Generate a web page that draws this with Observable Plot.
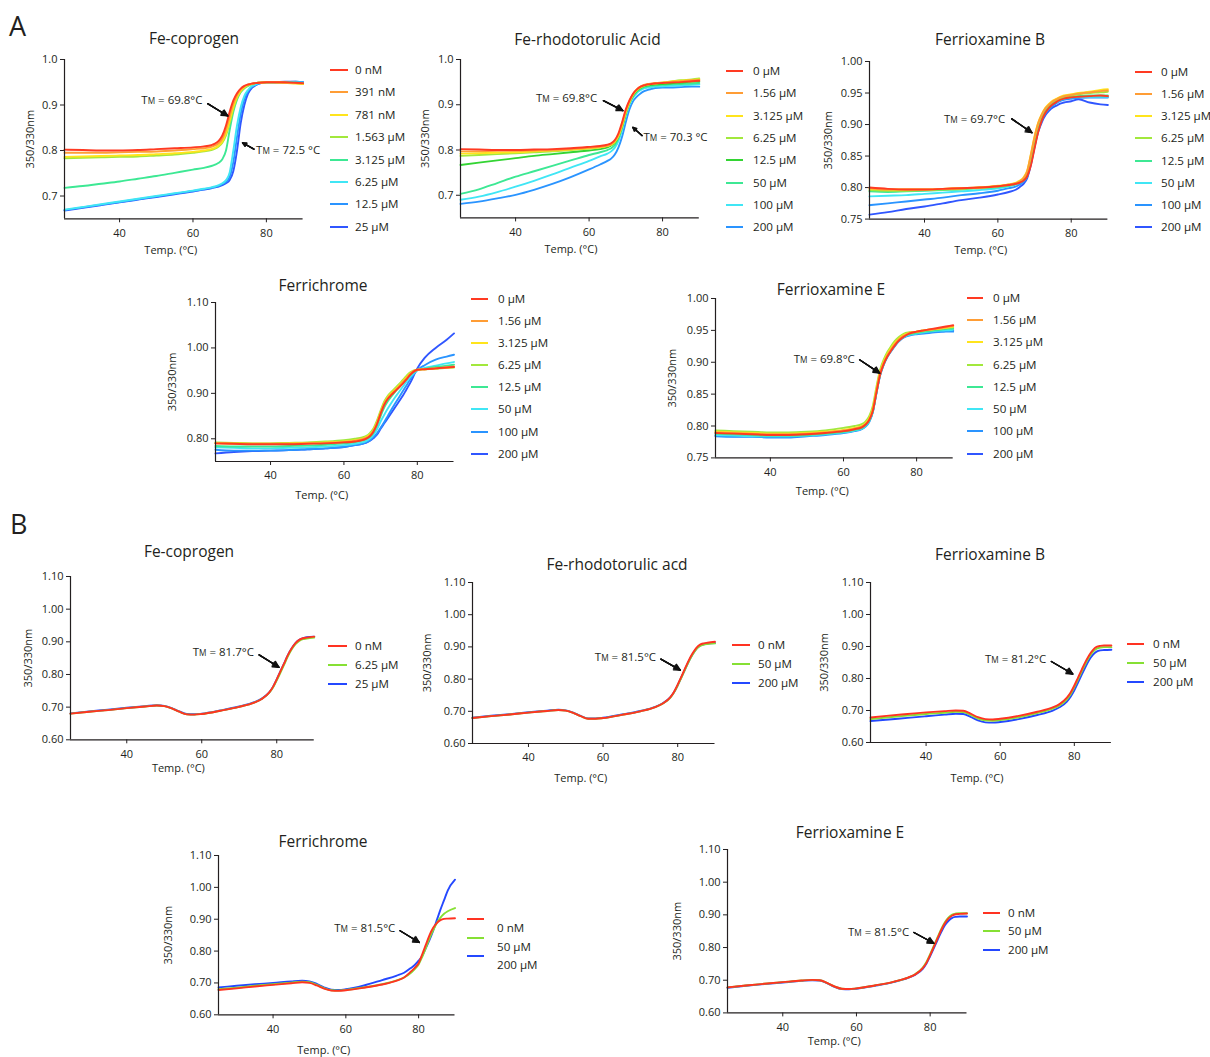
<!DOCTYPE html>
<html><head><meta charset="utf-8">
<script src="https://cdn.jsdelivr.net/npm/d3@7"></script>
<script src="https://cdn.jsdelivr.net/npm/@observablehq/plot@0.6"></script>
<style>
body{margin:0;background:#fff;}
#fig{position:relative;width:1210px;height:1057px;font-family:"Open Sans",sans-serif;color:#231f20;overflow:hidden;background:#fff}
.abs{position:absolute;white-space:nowrap;line-height:1}
.ttl{font-size:15.5px;transform:translate(-50%,-50%)}
.leg{font-size:11.6px;transform:translateY(-50%)}
.let{font-size:27px;transform:translateY(-50%)}
.sw{position:absolute;height:2px}
svg.panel{position:absolute;overflow:visible}
</style></head><body><div id="fig"></div>
<script>
// ---------- DATA ----------
const tempA = [25,30,35,40,45,50,55,60,63,65,66,67,68,69,70,71,72,73,74,75,76,77,78,80,82,85,88,90];
const tempB = [25,30,35,40,45,48,50,52,54,56,58,60,65,70,74,76,78,79,80,81,82,83,84,85,86,87,88,90];
const xTicks = [40,60,80];
const yTicksA1 = [0.7,0.8,0.9,1.0];
const yTicksA3 = [0.75,0.80,0.85,0.90,0.95,1.00];
const yTicksA4 = [0.80,0.90,1.00,1.10];
const yTicksB = [0.60,0.70,0.80,0.90,1.00,1.10];

// A1 Fe-coprogen
const legendA1 = ["0 nM","391 nM","781 nM","1.563 µM","3.125 µM","6.25 µM","12.5 µM","25 µM"];
const a1_0    = [.802,.801,.800,.800,.801,.803,.805,.807,.809,.812,.815,.821,.833,.855,.885,.910,.926,.936,.942,.945,.947,.948,.949,.950,.950,.950,.949,.948];
const a1_391  = [.795,.795,.795,.796,.797,.798,.800,.803,.805,.808,.811,.816,.826,.846,.875,.903,.922,.934,.941,.945,.947,.948,.949,.950,.950,.949,.948,.947];
const a1_781  = [.786,.787,.788,.789,.790,.792,.794,.797,.800,.803,.806,.811,.820,.838,.866,.896,.918,.931,.939,.944,.946,.948,.949,.950,.950,.949,.947,.946];
const a1_1563 = [.783,.784,.785,.786,.787,.789,.791,.795,.798,.801,.804,.809,.817,.833,.860,.891,.915,.930,.938,.943,.946,.948,.949,.950,.950,.949,.948,.946];
const a1_3125 = [.718,.722,.727,.732,.738,.744,.751,.758,.762,.766,.769,.773,.781,.800,.845,.885,.912,.928,.937,.942,.946,.948,.949,.950,.950,.950,.949,.948];
const a1_625  = [.670,.676,.682,.688,.694,.700,.706,.712,.716,.719,.721,.724,.728,.735,.752,.800,.855,.895,.920,.933,.941,.945,.948,.950,.950,.950,.950,.949];
const a1_125  = [.669,.675,.681,.687,.693,.699,.705,.711,.715,.718,.720,.722,.726,.731,.742,.775,.830,.880,.912,.930,.939,.944,.947,.950,.950,.950,.951,.950];
const a1_25   = [.668,.674,.680,.686,.692,.698,.704,.710,.714,.717,.719,.721,.724,.728,.735,.755,.800,.860,.900,.925,.937,.943,.947,.950,.950,.951,.951,.950];

// A2 Fe-rhodotorulic Acid
const legendA = ["0 µM","1.56 µM","3.125 µM","6.25 µM","12.5 µM","50 µM","100 µM","200 µM"];
const a2_0    = [.802,.801,.800,.800,.801,.802,.804,.807,.809,.812,.815,.822,.837,.862,.890,.910,.925,.934,.940,.943,.945,.946,.947,.948,.949,.950,.952,.953];
const a2_156  = [.797,.797,.798,.798,.799,.800,.802,.805,.807,.810,.813,.820,.834,.858,.887,.908,.924,.934,.940,.944,.946,.947,.948,.949,.950,.952,.954,.955];
const a2_3125 = [.792,.793,.794,.795,.797,.799,.801,.804,.806,.809,.812,.818,.831,.855,.884,.906,.923,.933,.939,.943,.945,.946,.947,.949,.951,.953,.955,.956];
const a2_625  = [.787,.789,.791,.793,.795,.797,.800,.803,.806,.809,.812,.818,.831,.854,.883,.905,.922,.932,.938,.942,.944,.946,.947,.949,.951,.954,.956,.958];
const a2_125  = [.767,.772,.777,.782,.787,.791,.795,.799,.802,.806,.810,.816,.830,.853,.882,.905,.921,.931,.937,.941,.943,.944,.945,.946,.947,.949,.951,.952];
const a2_50   = [.703,.713,.727,.741,.753,.765,.777,.789,.795,.800,.804,.811,.826,.850,.879,.903,.919,.929,.935,.939,.941,.942,.943,.944,.945,.946,.947,.948];
const a2_100  = [.690,.697,.707,.719,.732,.746,.761,.776,.786,.792,.797,.805,.820,.845,.875,.900,.916,.926,.932,.936,.938,.939,.940,.941,.942,.943,.944,.945];
const a2_200  = [.681,.686,.693,.701,.712,.725,.740,.757,.768,.776,.781,.790,.806,.830,.862,.890,.908,.918,.925,.930,.933,.935,.937,.938,.938,.939,.940,.940];

// A3 Ferrioxamine B
const a3_0    = [.800,.798,.797,.797,.798,.799,.800,.802,.804,.806,.808,.811,.818,.835,.862,.888,.907,.919,.927,.932,.936,.939,.941,.943,.944,.945,.946,.945];
const a3_156  = [.799,.797,.797,.797,.798,.799,.800,.802,.805,.807,.810,.815,.826,.852,.880,.902,.916,.926,.932,.937,.940,.943,.945,.947,.949,.951,.953,.954];
const a3_3125 = [.798,.797,.797,.797,.798,.799,.800,.803,.805,.808,.811,.816,.827,.853,.881,.903,.917,.927,.933,.938,.941,.944,.946,.948,.950,.952,.955,.956];
const a3_625  = [.796,.795,.795,.796,.797,.798,.800,.802,.804,.807,.810,.814,.824,.849,.877,.900,.915,.925,.931,.936,.939,.942,.944,.946,.948,.950,.951,.952];
const a3_125  = [.794,.793,.794,.795,.796,.797,.799,.801,.803,.806,.809,.813,.822,.846,.874,.898,.913,.923,.930,.935,.938,.940,.942,.944,.945,.946,.946,.946];
const a3_50   = [.786,.787,.788,.790,.792,.794,.796,.799,.802,.805,.808,.812,.820,.842,.870,.894,.910,.921,.928,.933,.936,.939,.941,.943,.944,.944,.944,.944];
const a3_100  = [.772,.775,.778,.781,.784,.788,.791,.795,.799,.802,.805,.809,.817,.838,.866,.890,.907,.918,.925,.930,.934,.937,.939,.941,.942,.943,.943,.943];
const a3_200  = [.757,.761,.766,.770,.775,.780,.784,.789,.793,.797,.801,.806,.815,.836,.864,.888,.904,.915,.922,.927,.930,.933,.935,.937,.940,.935,.932,.931];

// A4 Ferrichrome
const a4_0    = [.790,.789,.788,.788,.788,.789,.790,.792,.794,.797,.800,.805,.815,.832,.855,.875,.888,.897,.905,.913,.921,.930,.940,.952,.953,.955,.957,.958];
const a4_156  = [.790,.789,.789,.789,.789,.790,.791,.793,.796,.799,.802,.807,.817,.834,.857,.877,.890,.899,.907,.915,.924,.933,.942,.952,.953,.955,.957,.959];
const a4_3125 = [.791,.790,.789,.789,.790,.791,.792,.794,.797,.800,.804,.809,.819,.836,.859,.879,.892,.901,.909,.917,.926,.935,.944,.952,.953,.955,.957,.958];
const a4_625  = [.792,.791,.790,.790,.791,.792,.794,.797,.800,.803,.806,.812,.822,.840,.862,.882,.895,.904,.912,.920,.929,.938,.946,.952,.953,.954,.956,.957];
const a4_125  = [.784,.783,.783,.783,.784,.785,.787,.790,.793,.796,.799,.804,.813,.829,.850,.869,.883,.894,.904,.913,.922,.931,.940,.951,.954,.958,.961,.963];
const a4_50   = [.781,.780,.779,.779,.780,.781,.783,.786,.789,.792,.795,.800,.808,.821,.838,.853,.867,.880,.892,.903,.914,.925,.935,.951,.956,.961,.966,.969];
const a4_100  = [.776,.774,.774,.774,.775,.777,.779,.782,.786,.789,.792,.796,.803,.812,.824,.837,.851,.865,.878,.891,.904,.917,.930,.951,.962,.974,.981,.985];
const a4_200  = [.768,.771,.773,.774,.775,.777,.779,.782,.786,.789,.791,.795,.801,.809,.822,.834,.846,.858,.870,.882,.894,.908,.922,.955,.978,1.000,1.018,1.032];

// A5 Ferrioxamine E
const a5_0    = [.789,.788,.787,.786,.786,.787,.789,.792,.795,.798,.802,.809,.823,.852,.880,.897,.909,.918,.926,.933,.938,.942,.945,.948,.950,.953,.956,.958];
const a5_156  = [.790,.789,.788,.787,.787,.788,.790,.793,.796,.799,.803,.810,.825,.855,.883,.899,.911,.920,.928,.935,.940,.943,.946,.948,.950,.952,.955,.957];
const a5_3125 = [.791,.790,.789,.788,.788,.789,.791,.794,.797,.800,.804,.812,.827,.857,.885,.901,.913,.922,.930,.936,.941,.944,.946,.948,.950,.952,.954,.956];
const a5_625  = [.793,.792,.791,.790,.790,.791,.793,.797,.800,.803,.807,.815,.831,.861,.888,.904,.916,.925,.933,.939,.943,.946,.947,.948,.950,.952,.954,.955];
const a5_125  = [.788,.787,.786,.785,.785,.786,.788,.791,.794,.797,.801,.808,.823,.853,.881,.898,.910,.919,.927,.934,.939,.942,.944,.946,.948,.950,.952,.953];
const a5_50   = [.786,.785,.784,.784,.784,.785,.787,.790,.793,.796,.800,.807,.822,.852,.880,.897,.909,.918,.926,.933,.938,.941,.943,.945,.947,.949,.950,.951];
const a5_100  = [.784,.783,.783,.782,.782,.784,.786,.789,.792,.795,.799,.806,.821,.851,.879,.896,.908,.917,.925,.932,.937,.940,.942,.944,.945,.947,.948,.948];
const a5_200  = [.785,.784,.784,.783,.783,.785,.787,.790,.793,.796,.800,.807,.822,.852,.880,.897,.909,.918,.926,.933,.938,.941,.943,.945,.946,.948,.949,.950];

// B panels
const legendB1 = ["0 nM","6.25 µM","25 µM"];
const legendB  = ["0 nM","50 µM","200 µM"];
const b1_0   = [.680,.686,.691,.697,.702,.705,.703,.696,.686,.678,.677,.679,.689,.701,.714,.725,.745,.762,.785,.810,.835,.860,.880,.896,.906,.911,.913,.916];
const b1_625 = [.680,.686,.691,.697,.702,.705,.703,.696,.686,.678,.677,.679,.689,.701,.714,.725,.744,.760,.782,.806,.831,.856,.877,.893,.903,.908,.910,.913];
const b1_25  = [.681,.687,.692,.698,.703,.706,.704,.697,.687,.679,.678,.680,.690,.702,.715,.726,.745,.762,.785,.810,.835,.860,.880,.896,.906,.911,.914,.916];
const b2_0   = [.679,.685,.690,.696,.701,.704,.702,.695,.685,.677,.677,.679,.689,.700,.713,.724,.743,.760,.783,.808,.834,.859,.880,.897,.907,.911,.913,.916];
const b2_50  = [.679,.685,.690,.696,.701,.704,.702,.695,.685,.677,.677,.679,.689,.700,.713,.724,.742,.758,.780,.805,.830,.855,.876,.893,.903,.907,.909,.911];
const b2_200 = [.680,.686,.691,.697,.702,.705,.703,.696,.686,.678,.678,.680,.690,.701,.714,.725,.743,.759,.781,.806,.831,.856,.877,.894,.904,.908,.910,.912];
const b3_0   = [.678,.684,.689,.694,.698,.700,.699,.690,.679,.673,.672,.674,.683,.696,.709,.720,.740,.756,.778,.803,.828,.852,.873,.889,.899,.902,.903,.903];
const b3_50  = [.673,.679,.684,.689,.693,.696,.695,.686,.675,.669,.668,.670,.679,.692,.705,.716,.735,.751,.773,.797,.822,.846,.867,.883,.893,.897,.898,.898];
const b3_200 = [.667,.672,.677,.682,.687,.690,.689,.680,.669,.663,.662,.664,.673,.686,.699,.710,.728,.743,.763,.787,.812,.836,.858,.874,.884,.888,.889,.890];
const b4_0   = [.678,.683,.689,.694,.699,.702,.700,.692,.682,.676,.675,.677,.685,.695,.707,.717,.737,.748,.762,.790,.820,.850,.873,.888,.897,.901,.902,.903];
const b4_50  = [.680,.685,.691,.696,.701,.704,.702,.694,.684,.677,.676,.678,.686,.696,.708,.717,.733,.744,.758,.782,.810,.840,.865,.888,.905,.917,.925,.935];
const b4_200 = [.686,.691,.696,.700,.705,.707,.705,.697,.686,.679,.678,.680,.692,.709,.723,.732,.748,.757,.770,.785,.810,.835,.864,.897,.930,.960,.990,1.024];
const b5_0   = [.678,.684,.689,.694,.699,.701,.700,.692,.681,.674,.673,.675,.684,.695,.708,.718,.737,.753,.777,.802,.828,.853,.874,.889,.898,.902,.903,.904];
const b5_50  = [.678,.684,.689,.694,.699,.701,.700,.692,.681,.674,.673,.675,.684,.695,.708,.719,.739,.756,.780,.805,.831,.856,.877,.892,.901,.904,.905,.905];
const b5_200 = [.677,.683,.688,.693,.698,.700,.699,.691,.680,.673,.672,.674,.683,.694,.707,.717,.735,.751,.774,.798,.823,.847,.868,.882,.891,.894,.895,.895];

// Tm annotations (temperature / ratio values)
const notesA1 = [{text:"TM = 69.8°C", side:"end", x:62.6, y:.910, x1:64.0, y1:.903, x2:69.5, y2:.876},
                 {text:"TM = 72.5 °C", side:"start", x:77.2, y:.800, x1:76.6, y1:.803, x2:73.5, y2:.817}];
const notesA2 = [{text:"TM = 69.8°C", side:"end", x:62.2, y:.914, x1:63.9, y1:.909, x2:69.2, y2:.887},
                 {text:"TM = 70.3 °C", side:"start", x:74.8, y:.828, x1:74.4, y1:.832, x2:71.9, y2:.850}];
const notesA3 = [{text:"TM = 69.7°C", side:"end", x:62.0, y:.909, x1:63.8, y1:.909, x2:69.3, y2:.887}];
const notesA5 = [{text:"TM = 69.8°C", side:"end", x:63.1, y:.904, x1:64.4, y1:.904, x2:69.9, y2:.883}];
const notesB1 = [{text:"TM = 81.7°C", side:"end", x:73.9, y:.868, x1:75.3, y1:.860, x2:80.6, y2:.822}];
const notesB2 = [{text:"TM = 81.5°C", side:"end", x:74.2, y:.867, x1:75.5, y1:.862, x2:80.7, y2:.828}];
const notesB3 = [{text:"TM = 81.2°C", side:"end", x:72.4, y:.861, x1:73.8, y1:.853, x2:79.6, y2:.814}];
const notesB4 = [{text:"TM = 81.5°C", side:"end", x:73.6, y:.870, x1:74.9, y1:.864, x2:80.2, y2:.827}];
const notesB5 = [{text:"TM = 81.5°C", side:"end", x:74.3, y:.848, x1:75.6, y1:.846, x2:81.0, y2:.813}];

// ---------- STYLE / LAYOUT ----------
const C = {red:"#ff3a22", orange:"#ff9d35", yellow:"#ffe41c", ygreen:"#a2e83c", spring:"#3de894",
           cyan:"#40e6f5", dodger:"#2a94ff", blue:"#3056ff", green:"#33d433"};
const colorsA1 = [C.red,C.orange,C.yellow,C.ygreen,C.spring,C.cyan,C.dodger,C.blue];
const colorsA2 = [C.red,C.orange,C.yellow,C.ygreen,C.green,C.spring,C.cyan,C.dodger];
const colorsA  = [C.red,C.orange,C.yellow,C.ygreen,C.spring,C.cyan,C.dodger,C.blue];
const colorsB  = ["#ff3322","#86e034","#2448ff"];
const INK = "#231f20";
const FONT = "'Open Sans', sans-serif";

const panels = [
 {title:"Fe-coprogen", tc:[194,39], temps:tempA, labels:legendA1, colors:colorsA1, values:[a1_0,a1_391,a1_781,a1_1563,a1_3125,a1_625,a1_125,a1_25],
  yDomain:[0.65,1.0], yTicks:yTicksA1, yFmt:".1f", frame:[64,302.6,59,218.3], notes:notesA1, ylab:34, xlab:32, xshift:-13,
  leg:{sx:330, sw:18, tx:355, y0:70, dy:22.4}},
 {title:"Fe-rhodotorulic Acid", tc:[587.5,40], temps:tempA, labels:legendA, colors:colorsA2, values:[a2_0,a2_156,a2_3125,a2_625,a2_125,a2_50,a2_100,a2_200],
  yDomain:[0.65,1.0], yTicks:yTicksA1, yFmt:".1f", frame:[460.2,699,59.3,217.7], notes:notesA2, ylab:35, xlab:32, xshift:-9,
  leg:{sx:726, sw:17, tx:753, y0:71, dy:22.3}},
 {title:"Ferrioxamine B", tc:[990,40], temps:tempA, labels:legendA, colors:colorsA, values:[a3_0,a3_156,a3_3125,a3_625,a3_125,a3_50,a3_100,a3_200],
  yDomain:[0.75,1.0], yTicks:yTicksA3, yFmt:".2f", frame:[869.3,1107.7,60.7,218.3], notes:notesA3, ylab:41, xlab:32, xshift:-8,
  leg:{sx:1135, sw:17, tx:1161, y0:71.7, dy:22.2}},
 {title:"Ferrichrome", tc:[323,286], temps:tempA, labels:legendA, colors:colorsA, values:[a4_0,a4_156,a4_3125,a4_625,a4_125,a4_50,a4_100,a4_200],
  yDomain:[0.75,1.10], yTicks:yTicksA4, yFmt:".2f", frame:[215,453.5,301.7,460.7], notes:[], ylab:43, xlab:34, xshift:-13,
  leg:{sx:471, sw:17, tx:498, y0:298.7, dy:22.14}},
 {title:"Ferrioxamine E", tc:[831,290], temps:tempA, labels:legendA, colors:colorsA, values:[a5_0,a5_156,a5_3125,a5_625,a5_125,a5_50,a5_100,a5_200],
  yDomain:[0.75,1.0], yTicks:yTicksA3, yFmt:".2f", frame:[715,952.7,298.3,457.7], notes:notesA5, ylab:43, xlab:34, xshift:-12,
  leg:{sx:967, sw:16, tx:993, y0:298, dy:22.24}},
 {title:"Fe-coprogen", tc:[189,552], temps:tempB, labels:legendB1, colors:colorsB, values:[b1_0,b1_625,b1_25],
  yDomain:[0.6,1.1], yTicks:yTicksB, yFmt:".2f", frame:[69.75,313.5,576,739.3], notes:notesB1, ylab:42, xlab:29, xshift:-14,
  leg:{sx:328, sw:19, tx:355, y0:646.3, dy:18.9}},
 {title:"Fe-rhodotorulic acd", tc:[617,565], temps:tempB, labels:legendB, colors:colorsB, values:[b2_0,b2_50,b2_200],
  yDomain:[0.6,1.1], yTicks:yTicksB, yFmt:".2f", frame:[471.5,714,581.7,742.7], notes:notesB2, ylab:45, xlab:35.6, xshift:-13,
  leg:{sx:732, sw:18, tx:758, y0:645, dy:18.8}},
 {title:"Ferrioxamine B", tc:[990,555], temps:tempB, labels:legendB, colors:colorsB, values:[b3_0,b3_50,b3_200],
  yDomain:[0.6,1.1], yTicks:yTicksB, yFmt:".2f", frame:[869.5,1110.4,581.7,741.7], notes:notesB3, ylab:46, xlab:36, xshift:-14,
  leg:{sx:1127, sw:17, tx:1153, y0:644.3, dy:18.85}},
 {title:"Ferrichrome", tc:[323,842], temps:tempB, labels:legendB, colors:colorsB, values:[b4_0,b4_50,b4_200],
  yDomain:[0.6,1.1], yTicks:yTicksB, yFmt:".2f", frame:[217.5,454,855,1014.3], notes:notesB4, ylab:49.5, xlab:35.7, xshift:-13,
  leg:{sx:467, sw:17, tx:497, y0:919.3, dy:18.5, ty0:928.3}},
 {title:"Ferrioxamine E", tc:[850,833], temps:tempB, labels:legendB, colors:colorsB, values:[b5_0,b5_50,b5_200],
  yDomain:[0.6,1.1], yTicks:yTicksB, yFmt:".2f", frame:[727,966.5,849.3,1012.7], notes:notesB5, ylab:50, xlab:29, xshift:-13,
  leg:{sx:983, sw:17, tx:1008, y0:912.7, dy:18.5}}
];

const fig = document.getElementById("fig");
function addText(txt, cls, x, y) {
  const d = document.createElement("div");
  d.className = "abs " + cls; d.textContent = txt;
  d.style.left = x + "px"; d.style.top = y + "px";
  fig.appendChild(d); return d;
}
addText("A", "let", 9, 25);
addText("B", "let", 10, 523);

const ML = 60, MT = 8, MR = 8, MB = 45;
panels.forEach(p => {
  p.values.forEach((v, i) => { if (v.length !== p.temps.length) throw new Error(p.title + " series " + i + " length " + v.length); });
  const [x0, x1, y0, y1] = p.frame;
  const rows = [];
  for (let i = p.values.length - 1; i >= 0; --i) {
    p.values[i].forEach((v, j) => rows.push({T: p.temps[j], v, key: p.labels[i]}));
  }
  const notesEnd = p.notes.filter(n => n.side === "end");
  const notesStart = p.notes.filter(n => n.side === "start");
  const marks = [
    Plot.line(rows, {x: "T", y: "v", z: "key", stroke: "key", strokeWidth: 1.9, curve: "monotone-x"}),
    Plot.ruleX([25], {stroke: INK, strokeWidth: 1.2}),
    Plot.ruleY([p.yDomain[0]], {stroke: INK, strokeWidth: 1.2})
  ];
  [55, 40, 25, 10].forEach(a => marks.push(Plot.arrow(p.notes, {x1: "x1", y1: "y1", x2: "x2", y2: "y2", stroke: "#111", strokeWidth: 1.3, headLength: 8, headAngle: a})));
  marks.push(Plot.text(notesEnd, {x: "x", y: "y", text: "text", textAnchor: "end", fontSize: 11.5, fill: INK}));
  marks.push(Plot.text(notesStart, {x: "x", y: "y", text: "text", textAnchor: "start", fontSize: 11.5, fill: INK}));
  const svg = Plot.plot({
    width: x1 - x0 + ML + MR, height: y1 - y0 + MT + MB,
    marginLeft: ML, marginRight: MR, marginTop: MT, marginBottom: MB,
    style: {fontFamily: FONT, fontSize: "11px", color: INK, background: "transparent", overflow: "visible"},
    x: {domain: [25, 90], ticks: xTicks, tickSize: 4, tickPadding: 6, label: "Temp. (°C)", labelAnchor: "center", labelOffset: p.xlab + 3.3, labelArrow: "none"},
    y: {domain: p.yDomain, ticks: p.yTicks, tickFormat: p.yFmt, tickSize: 4, tickPadding: 3, label: "350/330nm", labelAnchor: "center", labelOffset: p.ylab + 4.5, labelArrow: "none"},
    color: {domain: p.labels, range: p.colors},
    marks
  });
  svg.classList.add("panel");
  svg.style.left = (x0 - ML) + "px";
  svg.style.top = (y0 - MT) + "px";
  // small-cap M in "TM"
  d3.select(svg).selectAll("text").each(function() {
    const t = this.textContent;
    if (t.startsWith("TM")) {
      const s = d3.select(this); s.text("");
      s.append("tspan").text("T");
      s.append("tspan").attr("font-size", "0.72em").text("M");
      s.append("tspan").text(t.slice(2));
    }
  });
  svg.querySelectorAll("text").forEach(t => {
    if (t.textContent === "350/330nm" || t.textContent === "Temp. (°C)") t.setAttribute("font-size", "11px");
  });
  const xl = svg.querySelector('g[aria-label="x-axis label"]');
  if (xl) xl.setAttribute("transform", `translate(${p.xshift},0) ` + (xl.getAttribute("transform") || ""));
  fig.appendChild(svg);

  addText(p.title, "ttl", p.tc[0], p.tc[1]);
  p.labels.forEach((lab, i) => {
    const sw = document.createElement("div");
    sw.className = "sw";
    sw.style.left = p.leg.sx + "px"; sw.style.width = p.leg.sw + "px";
    sw.style.top = (p.leg.y0 + i * p.leg.dy - 1) + "px";
    sw.style.background = p.colors[i];
    fig.appendChild(sw);
    addText(lab, "leg", p.leg.tx, (p.leg.ty0 ?? p.leg.y0) + i * p.leg.dy);
  });
});
</script></body></html>
